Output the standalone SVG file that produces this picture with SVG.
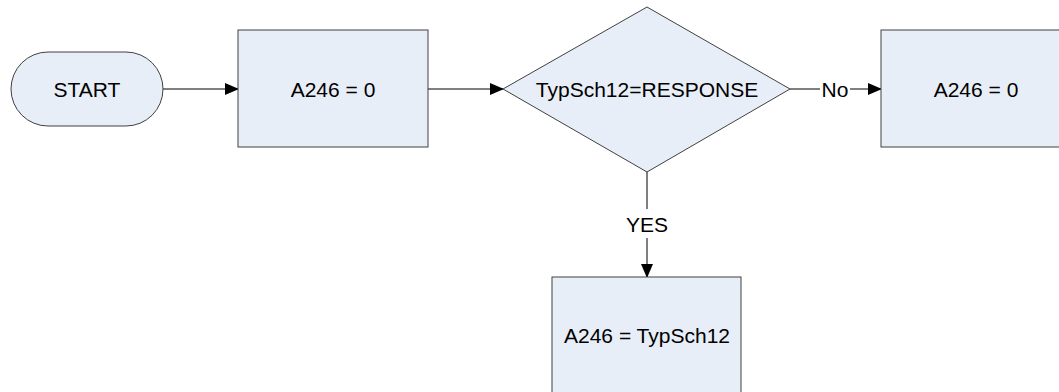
<svg xmlns="http://www.w3.org/2000/svg" width="1059" height="392" viewBox="0 0 1059 392">
<defs>
<style>
.n{fill:#E8EEF7;stroke:#404040;stroke-width:1}
.t{font-family:"Liberation Sans",Arial,sans-serif;font-size:21px;fill:#000;text-anchor:middle;dominant-baseline:central}
.c{stroke:#000;stroke-width:1;fill:none}
</style>
<marker id="ah" markerWidth="14" markerHeight="12" refX="13" refY="6" orient="auto" markerUnits="userSpaceOnUse">
<path d="M0,0 L14,6 L0,12 Z" fill="#000"/>
</marker>
</defs>
<rect width="1059" height="392" fill="#fff"/>
<g id="connectors">
<line class="c" x1="163" y1="89" x2="238" y2="89" marker-end="url(#ah)"/>
<line class="c" x1="428" y1="89" x2="503" y2="89" marker-end="url(#ah)"/>
<line class="c" x1="790" y1="89" x2="820" y2="89"/>
<line class="c" x1="850" y1="89" x2="881" y2="89" marker-end="url(#ah)"/>
<text class="t" x="835" y="89">No</text>
<line class="c" x1="647" y1="172" x2="647" y2="209"/>
<line class="c" x1="647" y1="238" x2="647" y2="277" marker-end="url(#ah)"/>
<text class="t" x="647" y="224">YES</text>
</g>
<g id="start">
<rect class="n" x="11" y="52" width="152" height="74" rx="37" ry="37"/>
<text class="t" x="87" y="89">START</text>
</g>
<g id="box1">
<rect class="n" x="238" y="30" width="190" height="117"/>
<text class="t" x="333" y="89">A246 = 0</text>
</g>
<g id="decision">
<polygon class="n" points="647,7 790,89 647,172 503,89"/>
<text class="t" x="647" y="89">TypSch12=RESPONSE</text>
</g>
<g id="box3">
<rect class="n" x="881" y="30" width="190" height="117"/>
<text class="t" x="976" y="89">A246 = 0</text>
</g>
<g id="box4">
<rect class="n" x="552" y="277" width="189" height="117"/>
<text class="t" x="647" y="335">A246 = TypSch12</text>
</g>
</svg>
